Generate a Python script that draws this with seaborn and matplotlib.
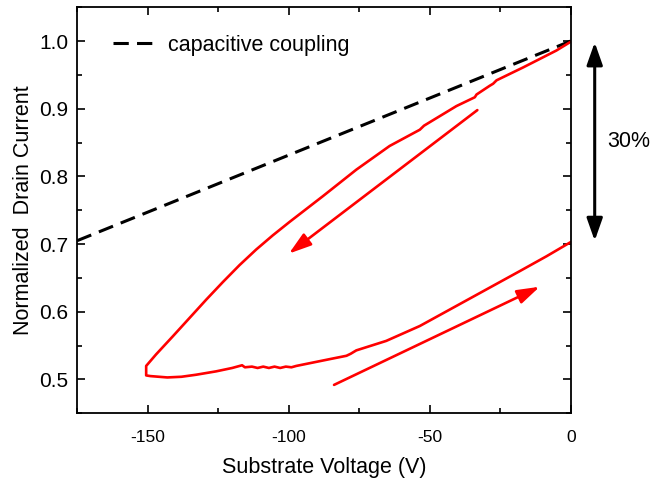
import numpy as np
import pandas as pd
import matplotlib
matplotlib.use("Agg")
import matplotlib.pyplot as plt
import seaborn as sns
from matplotlib.ticker import MultipleLocator, FormatStrFormatter

# ---- data ----
down_v = [0, -5.1, -16.9, -26.3, -27.5, -28.7, -33.4, -34.0, -40.5, -52.0, -53.5, -64.2,
          -76.0, -87.8, -99.6, -105.6, -111.5, -117.4, -123.3, -129.2, -135.1,
          -141.0, -147.0, -150.5]
down_i = [0.999, 0.986, 0.961, 0.942, 0.937, 0.934, 0.921, 0.917, 0.904, 0.875, 0.869, 0.845,
          0.810, 0.771, 0.733, 0.713, 0.692, 0.669, 0.644, 0.618, 0.591,
          0.564, 0.537, 0.520]
up_v = [-150.5, -149, -143, -138, -132.8, -125.7, -120, -116.5, -115.5, -113, -111, -109,
        -107, -105, -103, -101, -99, -97.3, -91.4, -84.3, -79.5, -78, -76, -65.4, -53.5,
        -41.7, -29.9, -18.1, -8.6, 0]
up_i = [0.506, 0.505, 0.503, 0.504, 0.507, 0.512, 0.517, 0.521, 0.518, 0.519, 0.517, 0.519,
        0.517, 0.519, 0.517, 0.519, 0.518, 0.520, 0.525, 0.531, 0.535, 0.538, 0.543, 0.557,
        0.579, 0.606, 0.633, 0.660, 0.682, 0.703]
cap_v = [-175, 0]
cap_i = [0.705, 1.0]
legend_label = "capacitive coupling"
swing_label = "30%"

loop = pd.DataFrame({"V": down_v + up_v, "I": down_i + up_i})
cap = pd.DataFrame({"V": cap_v, "I": cap_i})

sns.set_style("ticks")
plt.rcParams["font.family"] = ["Liberation Sans", "DejaVu Sans"]
plt.rcParams.update({"text.color": "black", "axes.labelcolor": "black",
                     "xtick.color": "black", "ytick.color": "black",
                     "axes.edgecolor": "black"})

fig = plt.figure(figsize=(6.53, 4.82), dpi=100)
ax = fig.add_axes([0.118, 0.1425, 0.756, 0.8425])

sns.lineplot(data=cap, x="V", y="I", ax=ax, color="black", lw=2.2,
             dashes=False, label=legend_label)
ax.lines[-1].set_dashes((5, 2.7))
sns.lineplot(data=loop, x="V", y="I", ax=ax, color="#ff0000", lw=1.9, sort=False,
             estimator=None)

arrow_style = "-|>,head_length=0.85,head_width=0.27"
# direction arrows
ax.annotate("", xy=(-99.9, 0.686), xytext=(-33.1, 0.898),
            arrowprops=dict(arrowstyle=arrow_style, color="#ff0000", lw=1.9,
                            shrinkA=0, shrinkB=0, mutation_scale=16))
ax.annotate("", xy=(-11, 0.637), xytext=(-83.9, 0.492),
            arrowprops=dict(arrowstyle=arrow_style, color="#ff0000", lw=1.9,
                            shrinkA=0, shrinkB=0, mutation_scale=16))
# 30% double arrow outside axes
ax.annotate("", xy=(8.5, 0.998), xytext=(8.5, 0.705), annotation_clip=False,
            arrowprops=dict(arrowstyle="<|-|>,head_length=0.85,head_width=0.3",
                            color="black", lw=2.2, shrinkA=0, shrinkB=0, mutation_scale=16))
ax.text(13.1, 0.852, swing_label, fontsize=15.5, va="center", ha="left", clip_on=False)

ax.set_xlim(-175, 0)
ax.set_ylim(0.45, 1.05)
ax.xaxis.set_major_locator(MultipleLocator(50))
ax.xaxis.set_minor_locator(MultipleLocator(25))
ax.yaxis.set_major_locator(MultipleLocator(0.1))
ax.yaxis.set_minor_locator(MultipleLocator(0.05))
ax.yaxis.set_major_formatter(FormatStrFormatter("%.1f"))
ax.xaxis.set_major_formatter(FormatStrFormatter("%d"))

for s in ax.spines.values():
    s.set_visible(True)
    s.set_linewidth(1.3)
    s.set_color("black")
ax.tick_params(which="both", direction="in", top=True, right=True, color="black", width=1.2)
ax.tick_params(which="major", length=5.8)
ax.tick_params(which="minor", length=3.4)
ax.tick_params(axis="x", which="major", labelsize=12.5, pad=12)
ax.tick_params(axis="y", which="major", labelsize=15, pad=6)

ax.set_xlabel("Substrate Voltage (V)", fontsize=15.5, labelpad=9)
ax.set_ylabel("Normalized  Drain Current", fontsize=15.5, labelpad=4)

leg = ax.legend(loc="upper left", frameon=False, fontsize=15.5, handlelength=1.85,
                handletextpad=0.7, bbox_to_anchor=(0.055, 0.953), borderaxespad=0)

fig.savefig("out.png", dpi=100)
